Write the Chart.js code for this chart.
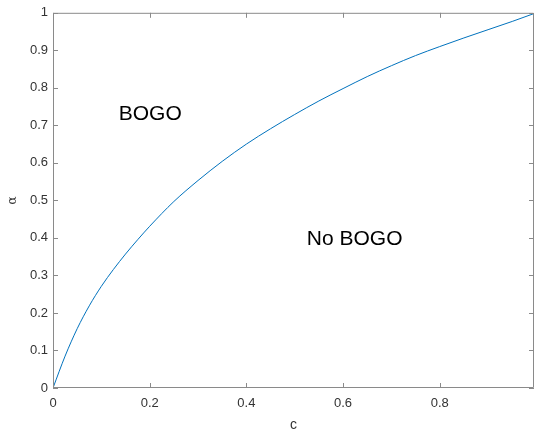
<!DOCTYPE html>
<html lang="en">
<head>
    <meta charset="UTF-8">
    <title>BOGO region</title>
    <script src="https://cdn.jsdelivr.net/npm/chart.js"></script>
    <style>
        html, body { margin: 0; padding: 0; background: #fff; }
        .chart-container { width: 535px; height: 438px; }
    </style>
</head>
<body>
    <div class="chart-container">
        <canvas id="bogoChart"></canvas>
    </div>

    <script>
        // boundary curve
        const cValues = [0, 0.025, 0.05, 0.075, 0.1, 0.125, 0.15, 0.175, 0.2, 0.25, 0.3, 0.35, 0.4, 0.45, 0.5, 0.55, 0.6, 0.65, 0.7, 0.75, 0.8, 0.85, 0.9, 0.95, 0.995];
        const alphaValues = [0, 0.085, 0.158, 0.219, 0.271, 0.316, 0.357, 0.395, 0.431, 0.497, 0.553, 0.604, 0.65, 0.691, 0.729, 0.765, 0.798, 0.83, 0.859, 0.886, 0.91, 0.933, 0.955, 0.977, 0.998];
        const xTicks = [0, 0.2, 0.4, 0.6, 0.8];
        const yTicks = [0, 0.1, 0.2, 0.3, 0.4, 0.5, 0.6, 0.7, 0.8, 0.9, 1];
        const labelTexts = ['BOGO', 'No BOGO'];
        const labelC = [0.136, 0.525];
        const labelAlpha = [0.73, 0.396];

        const axisColor = '#8a8a8a';
        const textColor = '#333333';

        // MATLAB style box with inward ticks, plus the region labels
        const boxPlugin = {
            id: 'boxPlugin',
            afterDatasetsDraw(chart) {
                const { ctx, chartArea: a, scales: { x, y } } = chart;
                ctx.save();
                ctx.strokeStyle = axisColor;
                ctx.lineWidth = 1;
                ctx.beginPath();
                ctx.rect(a.left + 0.5, a.top + 0.5, a.right - a.left - 1, a.bottom - a.top - 1);
                ctx.stroke();
                ctx.beginPath();
                xTicks.forEach(v => {
                    const px = Math.round(x.getPixelForValue(v)) + 0.5;
                    ctx.moveTo(px, a.bottom); ctx.lineTo(px, a.bottom - 5);
                    ctx.moveTo(px, a.top); ctx.lineTo(px, a.top + 5);
                });
                yTicks.forEach(v => {
                    const py = Math.round(y.getPixelForValue(v)) + 0.5;
                    ctx.moveTo(a.left, py); ctx.lineTo(a.left + 5, py);
                    ctx.moveTo(a.right, py); ctx.lineTo(a.right - 5, py);
                });
                ctx.stroke();

                ctx.fillStyle = '#000';
                ctx.font = '21px "Liberation Sans", Arial, sans-serif';
                ctx.textAlign = 'left';
                ctx.textBaseline = 'middle';
                labelTexts.forEach((t, i) => {
                    ctx.fillText(t, x.getPixelForValue(labelC[i]), y.getPixelForValue(labelAlpha[i]));
                });
                ctx.restore();
            }
        };

        const ctx = document.getElementById('bogoChart').getContext('2d');
        new Chart(ctx, {
            type: 'line',
            data: {
                datasets: [{
                    data: cValues.map((c, i) => ({ x: c, y: alphaValues[i] })),
                    borderColor: '#0072BD',
                    borderWidth: 1,
                    pointRadius: 0,
                    cubicInterpolationMode: 'monotone',
                    fill: false
                }]
            },
            options: {
                responsive: true,
                maintainAspectRatio: false,
                animation: false,
                layout: { padding: { top: 6, right: 1, left: 0, bottom: 0 } },
                plugins: {
                    legend: { display: false },
                    tooltip: { enabled: false }
                },
                scales: {
                    x: {
                        type: 'linear',
                        min: 0,
                        max: 0.995,
                        afterBuildTicks: scale => { scale.ticks = xTicks.map(v => ({ value: v })); },
                        afterFit: scale => { scale.height = 50; },
                        grid: { display: false, drawTicks: false },
                        border: { display: false },
                        ticks: {
                            padding: 8,
                            color: textColor,
                            font: { family: '"Liberation Sans", Arial, sans-serif', size: 13 },
                            callback: v => String(v)
                        },
                        title: {
                            display: true,
                            text: 'c',
                            color: textColor,
                            padding: { top: 0, bottom: 4 },
                            font: { family: '"Liberation Sans", Arial, sans-serif', size: 14 }
                        }
                    },
                    y: {
                        type: 'linear',
                        min: 0,
                        max: 1,
                        afterBuildTicks: scale => { scale.ticks = yTicks.map(v => ({ value: v })); },
                        afterFit: scale => { scale.width = 53; },
                        grid: { display: false, drawTicks: false },
                        border: { display: false },
                        ticks: {
                            padding: 5,
                            color: textColor,
                            font: { family: '"Liberation Sans", Arial, sans-serif', size: 13 },
                            callback: v => String(v)
                        },
                        title: {
                            display: true,
                            text: 'α',
                            color: textColor,
                            padding: { top: 6, bottom: 0 },
                            font: { family: '"DejaVu Serif", serif', size: 12 }
                        }
                    }
                }
            },
            plugins: [boxPlugin]
        });
    </script>
</body>
</html>
